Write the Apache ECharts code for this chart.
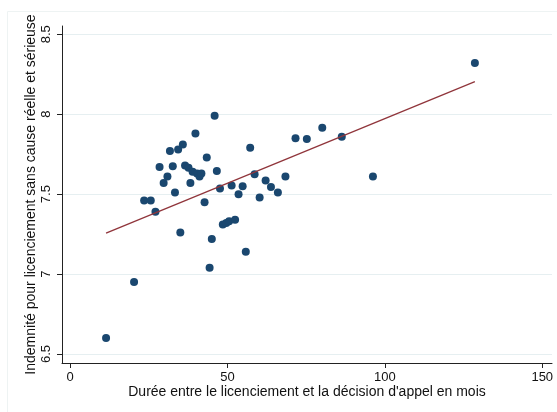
<!DOCTYPE html>
<html>
<head>
<meta charset="utf-8">
<script src="https://cdn.jsdelivr.net/npm/echarts@6/dist/echarts.min.js"></script>
<style>
html,body{margin:0;padding:0;background:#fff;}
#c{width:557px;height:412px;}
</style>
</head>
<body>
<div id="c"></div>
<script>
const duree = [11.4,20.3,23.5,25.6,27.1,28.4,29.7,30.9,31.7,32.6,33.3,34.3,35.8,35.0,36.5,37.6,38.9,38.2,39.8,40.3,41.1,41.7,42.7,43.4,44.3,45.0,45.9,46.6,47.6,48.5,49.6,50.5,51.3,52.4,53.5,54.8,55.8,57.2,58.6,60.2,62.1,63.8,66.0,68.4,71.6,75.2,80.1,86.3,96.2,128.6];
const indemnite = [6.60,6.95,7.46,7.46,7.39,7.67,7.57,7.61,7.77,7.675,7.51,7.78,7.81,7.26,7.68,7.665,7.64,7.57,7.88,7.63,7.61,7.63,7.45,7.73,7.04,7.22,7.99,7.645,7.535,7.31,7.32,7.33,7.555,7.34,7.50,7.55,7.14,7.79,7.625,7.48,7.585,7.545,7.51,7.61,7.85,7.845,7.915,7.86,7.61,8.32];
const fitX = [11.4, 128.6];
const fitY = [7.256, 8.204];
const xTicks = [0, 50, 100, 150];
const yTicks = [6.5, 7, 7.5, 8, 8.5];
const xTitle = "Durée entre le licenciement et la décision d'appel en mois";
const yTitle = "Indemnité pour licenciement sans cause réelle et sérieuse";

const font = "'Liberation Sans', Arial, Helvetica, sans-serif";
const chart = echarts.init(document.getElementById('c'), null, {renderer: 'canvas'});
chart.setOption({
  animation: false,
  backgroundColor: '#fff',
  graphic: [{
    type: 'rect', silent: true, z: -10,
    shape: {x: 7.5, y: 11.5, width: 600, height: 500},
    style: {fill: 'none', stroke: '#eef3f3', lineWidth: 1}
  }],
  grid: {left: 62, right: 5, top: 26, bottom: 49, containLabel: false},
  xAxis: {
    type: 'value', min: -2.6, max: 153.1,
    name: xTitle, nameLocation: 'middle', nameGap: 22, nameMoveOverlap: false,
    nameTextStyle: {fontFamily: font, fontSize: 14, color: '#111'},
    axisLine: {show: true, onZero: false, lineStyle: {color: '#222', width: 1}},
    axisTick: {show: true, length: 5, customValues: xTicks, lineStyle: {color: '#222'}},
    axisLabel: {customValues: xTicks, fontFamily: font, fontSize: 13, color: '#111', margin: 8},
    splitLine: {show: false}
  },
  yAxis: {
    type: 'value', min: 6.444, max: 8.552,
    name: yTitle, nameLocation: 'middle', nameGap: 24, nameRotate: 90, nameMoveOverlap: false,
    nameTextStyle: {fontFamily: font, fontSize: 14, color: '#111'},
    axisLine: {show: true, onZero: false, lineStyle: {color: '#222', width: 1}},
    axisTick: {show: true, length: 5, customValues: yTicks, lineStyle: {color: '#222'}},
    axisLabel: {customValues: yTicks, rotate: 90, fontFamily: font, fontSize: 13, color: '#111', margin: 9,
      formatter: v => String(v)},
    splitLine: {show: true, lineStyle: {color: '#e6eff1', width: 1}}
  },
  series: [
    {
      type: 'scatter', symbol: 'circle', symbolSize: 8,
      itemStyle: {color: '#1a476f', opacity: 1},
      data: duree.map((x, i) => [x, indemnite[i]]),
      z: 3
    },
    {
      type: 'line', symbol: 'none',
      lineStyle: {color: '#90353b', width: 1.3},
      data: fitX.map((x, i) => [x, fitY[i]]),
      z: 4
    }
  ]
});
</script>
</body>
</html>
